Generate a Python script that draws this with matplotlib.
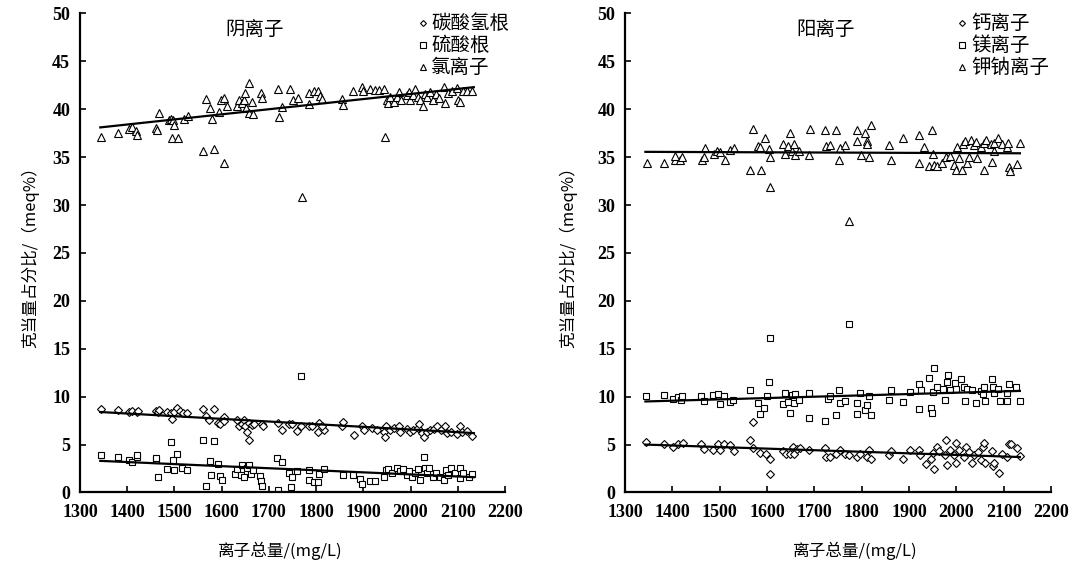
import matplotlib
matplotlib.use('Agg')
import matplotlib.pyplot as plt

# ---- data (total ions mg/L, share meq%) ----
# anions: bicarbonate
hco3_x = [1344, 1380, 1404, 1411, 1420, 1423, 1461, 1465, 1467, 1485, 1492, 1495, 1500, 1506, 1511, 1518,
          1527, 1561, 1566, 1573, 1583, 1592, 1597, 1604, 1606, 1633, 1636, 1643, 1647, 1650, 1654, 1657,
          1659, 1664, 1668, 1685, 1688, 1719, 1728, 1742, 1749, 1760, 1768, 1784, 1791, 1807, 1805, 1816,
          1812, 1855, 1858, 1881, 1897, 1901, 1918, 1929, 1943, 1946, 1948, 1957, 1964, 1975, 1978, 1992,
          1998, 2006, 2015, 2019, 2024, 2029, 2034, 2041, 2049, 2056, 2064, 2073, 2077, 2085, 2098, 2105,
          2109, 2119, 2130]
hco3_y = [8.7, 8.6, 8.4, 8.5, 8.4, 8.5, 8.5, 8.4, 8.6, 8.4, 8.3, 7.7, 8.4, 8.8, 8.5, 8.3,
          8.3, 8.7, 8.0, 7.6, 8.7, 7.3, 7.1, 7.9, 7.5, 7.6, 6.9, 7.1, 7.6, 6.9, 6.3, 5.5,
          7.3, 7.0, 7.1, 7.2, 6.9, 7.3, 6.5, 7.2, 7.1, 6.4, 6.9, 6.9, 6.9, 7.3, 6.3, 6.5,
          6.9, 6.9, 7.4, 6.0, 6.9, 6.5, 6.7, 6.5, 6.3, 5.8, 6.9, 6.5, 6.7, 6.9, 6.3, 6.6,
          6.3, 6.5, 6.7, 7.1, 6.2, 5.8, 6.3, 6.5, 6.6, 6.9, 6.5, 6.9, 6.2, 6.3, 6.1, 6.9,
          6.3, 6.4, 5.9]
# anions: sulfate
so4_x = [1344, 1380, 1404, 1411, 1420, 1421, 1460, 1462, 1466, 1485, 1493, 1497, 1499, 1506, 1516, 1527,
         1561, 1566, 1576, 1578, 1583, 1592, 1597, 1601, 1629, 1633, 1640, 1643, 1647, 1654, 1657, 1662,
         1666, 1682, 1683, 1685, 1717, 1728, 1719, 1742, 1749, 1747, 1760, 1768, 1784, 1786, 1795, 1805,
         1807, 1816, 1857, 1879, 1894, 1897, 1915, 1925, 1943, 1948, 1953, 1960, 1971, 1978, 1985, 1992,
         1996, 2003, 2010, 2015, 2020, 2029, 2031, 2034, 2040, 2047, 2054, 2063, 2071, 2075, 2080, 2085,
         2094, 2104, 2105, 2112, 2123, 2130]
so4_y = [3.9, 3.7, 3.4, 3.2, 3.7, 3.9, 3.4, 3.6, 1.6, 2.5, 5.3, 3.4, 2.3, 4.0, 2.6, 2.3,
         5.5, 0.7, 3.3, 1.8, 5.4, 3.0, 1.7, 1.3, 1.9, 2.4, 1.8, 2.9, 1.6, 2.6, 2.9, 1.9,
         2.3, 1.7, 1.2, 0.7, 3.6, 3.2, 0.3, 2.0, 1.6, 0.6, 2.2, 12.2, 2.3, 1.3, 1.1, 1.1,
         1.9, 2.5, 1.8, 1.8, 1.4, 0.9, 1.2, 1.2, 1.6, 2.3, 2.5, 2.0, 2.6, 2.2, 2.5, 1.8,
         2.2, 1.6, 2.0, 2.4, 1.3, 3.7, 2.6, 2.0, 2.6, 1.6, 2.0, 1.6, 1.3, 2.3, 1.8, 2.6,
         2.0, 2.6, 1.5, 2.0, 1.6, 1.9]
# anions: chloride
cl_x = [1344, 1380, 1404, 1411, 1418, 1420, 1461, 1463, 1467, 1488, 1493, 1497, 1499, 1494, 1507, 1520,
        1528, 1561, 1566, 1576, 1580, 1583, 1594, 1599, 1604, 1611, 1633, 1636, 1643, 1647, 1650, 1652,
        1657, 1657, 1664, 1666, 1684, 1686, 1719, 1721, 1728, 1745, 1752, 1761, 1784, 1795, 1805, 1809,
        1812, 1786, 1855, 1858, 1879, 1897, 1899, 1915, 1925, 1934, 1944, 1946, 1950, 1953, 1957, 1964,
        1972, 1975, 1980, 1992, 1996, 1999, 2006, 2010, 2015, 2020, 2027, 2031, 2034, 2041, 2047, 2054,
        2061, 2070, 2073, 2080, 2087, 2098, 2101, 2105, 2112, 2120, 2130, 1604, 1771]
cl_y = [37.1, 37.5, 37.9, 38.1, 37.7, 37.3, 38.0, 37.8, 39.6, 38.9, 39.0, 38.9, 38.4, 37.0, 37.0, 39.0,
        39.3, 35.6, 41.1, 40.1, 39.0, 35.8, 39.7, 41.0, 41.2, 40.3, 40.3, 41.0, 40.6, 41.0, 41.7, 40.1,
        42.7, 39.6, 40.7, 39.5, 41.7, 41.2, 42.1, 39.2, 40.2, 42.1, 41.0, 41.2, 41.7, 41.9, 41.9, 41.4,
        41.1, 40.5, 41.1, 40.4, 41.9, 42.3, 41.9, 42.1, 42.0, 42.0, 42.1, 37.1, 41.0, 40.6, 41.3, 40.8,
        41.3, 41.8, 41.0, 41.5, 41.8, 41.0, 41.5, 42.1, 41.3, 41.0, 40.3, 41.6, 41.3, 41.8, 41.0, 41.6,
        41.2, 42.3, 40.6, 41.7, 41.9, 42.2, 41.0, 40.8, 41.9, 41.9, 41.9, 34.4, 30.8]

# cations: calcium
ca_x = [1344, 1382, 1402, 1411, 1422, 1460, 1467, 1485, 1497, 1501, 1509, 1521, 1531, 1563, 1570, 1571,
        1584, 1598, 1607, 1607, 1633, 1641, 1649, 1655, 1657, 1663, 1669, 1688, 1723, 1725, 1732, 1746,
        1753, 1765, 1774, 1789, 1797, 1810, 1815, 1820, 1857, 1862, 1887, 1901, 1920, 1923, 1935, 1947,
        1952, 1951, 1958, 1963, 1975, 1977, 1980, 1986, 1994, 2000, 2000, 2005, 2016, 2021, 2026, 2033,
        2037, 2045, 2051, 2057, 2059, 2061, 2076, 2078, 2079, 2090, 2097, 2107, 2111, 2116, 2127, 2134]
ca_y = [5.3, 5.1, 4.8, 5.1, 5.2, 5.1, 4.5, 4.4, 5.1, 4.4, 5.1, 5.0, 4.3, 5.5, 7.4, 4.6,
        4.1, 4.0, 3.5, 1.9, 4.3, 4.0, 4.0, 4.8, 4.0, 4.5, 4.6, 4.4, 4.6, 3.7, 3.7, 4.0,
        4.4, 4.0, 3.9, 3.7, 4.0, 3.7, 4.4, 3.5, 3.9, 4.3, 3.5, 4.4, 4.4, 3.9, 3.0, 3.5,
        2.4, 4.1, 4.7, 4.3, 3.9, 5.5, 2.9, 4.4, 3.9, 5.2, 3.1, 4.4, 3.7, 4.8, 4.2, 3.1,
        3.9, 4.2, 3.4, 4.7, 5.2, 3.1, 4.3, 2.8, 3.1, 2.0, 4.0, 3.7, 5.1, 5.1, 4.6, 3.8]
# cations: magnesium
mg_x = [1344, 1382, 1402, 1411, 1418, 1420, 1460, 1466, 1485, 1497, 1500, 1509, 1521, 1529, 1563, 1580,
        1586, 1594, 1600, 1605, 1607, 1774, 1633, 1637, 1645, 1649, 1653, 1657, 1660, 1667, 1688, 1689,
        1723, 1728, 1732, 1746, 1751, 1755, 1765, 1789, 1790, 1797, 1806, 1810, 1815, 1820, 1857, 1861,
        1887, 1901, 1920, 1920, 1925, 1942, 1947, 1949, 1952, 1951, 1959, 1972, 1975, 1979, 1982, 1986,
        1996, 2000, 2010, 2016, 2019, 2023, 2033, 2042, 2051, 2057, 2059, 2061, 2076, 2078, 2079, 2088,
        2093, 2106, 2107, 2111, 2125, 2134]
mg_y = [10.1, 10.2, 9.8, 10.0, 9.7, 10.1, 10.1, 9.5, 10.2, 10.3, 9.2, 10.1, 9.4, 9.7, 10.7, 9.3,
        8.2, 8.8, 10.1, 11.5, 16.1, 17.6, 9.2, 10.4, 9.4, 8.3, 10.2, 9.3, 10.3, 9.7, 10.4, 7.8,
        7.5, 9.8, 10.1, 8.1, 10.7, 9.3, 9.5, 9.3, 8.2, 10.4, 8.6, 9.1, 10.1, 8.1, 9.7, 10.7,
        9.4, 10.5, 11.3, 8.7, 10.7, 11.9, 8.8, 8.3, 13.0, 10.5, 11.0, 10.8, 9.7, 11.5, 12.3, 10.7,
        11.4, 10.8, 11.8, 11.0, 9.6, 10.8, 10.7, 9.3, 10.6, 10.3, 11.0, 9.6, 11.8, 11.0, 10.4, 10.8,
        9.6, 9.6, 10.4, 11.3, 11.0, 9.6]
# cations: potassium + sodium
kna_x = [1346, 1383, 1406, 1416, 1462, 1512, 1564, 1587, 1607, 1751, 1774, 1861, 1920, 1942, 1952, 1959,
         1970, 1994, 2000, 2012, 2023, 2059, 2076, 2111, 2113, 2128, 1406, 1420, 1466, 1469, 1487, 1494,
         1501, 1522, 1531, 1570, 1580, 1586, 1596, 1603, 1607, 1633, 1637, 1645, 1648, 1653, 1657, 1660,
         1667, 1688, 1690, 1723, 1725, 1732, 1746, 1753, 1765, 1789, 1790, 1798, 1806, 1810, 1811, 1815,
         1820, 1857, 1887, 1920, 1932, 1949, 1951, 2002, 2014, 2019, 2030, 2037, 2042, 2052, 2058, 2063,
         2072, 2080, 2088, 2097, 2106, 2109, 2134, 1977, 1986, 2005, 2026, 2044, 2079]
kna_y = [34.4, 34.4, 34.7, 34.7, 34.7, 34.7, 33.7, 33.7, 31.9, 34.7, 28.3, 34.7, 34.4, 34.1, 34.2, 34.1,
         34.4, 34.2, 33.7, 33.7, 34.4, 33.7, 34.5, 34.0, 33.6, 34.3, 35.1, 35.0, 35.0, 35.9, 35.3, 35.6,
         35.5, 35.7, 35.9, 37.9, 36.2, 36.1, 37.0, 35.8, 35.0, 36.4, 35.3, 36.2, 37.5, 35.6, 36.4, 35.2,
         35.6, 35.2, 37.9, 37.8, 36.2, 36.3, 37.8, 36.0, 36.3, 37.8, 36.7, 35.2, 37.5, 36.7, 36.4, 35.0,
         38.4, 36.3, 37.0, 37.3, 36.1, 37.8, 35.3, 36.1, 36.4, 36.7, 36.8, 36.3, 36.6, 36.1, 36.5, 36.8,
         36.4, 36.5, 37.0, 36.4, 36.1, 36.5, 36.5, 35.0, 35.1, 34.9, 35.0, 34.9, 35.6]

# trend line ends
trend_x = [1343, 2134]
hco3_trend = [8.4, 6.2]
so4_trend = [3.3, 1.6]
cl_trend = [38.1, 42.3]
ca_trend = [5.0, 3.7]
mg_trend = [9.5, 10.6]
kna_trend = [35.55, 35.4]

an_labels = ['碳酸氢根', '硫酸根', '氯离子']
cat_labels = ['钙离子', '镁离子', '钾钠离子']

plt.rcParams['font.family'] = ['Noto Sans CJK SC', 'DejaVu Sans']
tick_font = 'Liberation Serif'

fig = plt.figure(figsize=(10.76, 5.67), dpi=100)
ax1 = fig.add_axes([0.0743, 0.1314, 0.395, 0.845])
ax2 = fig.add_axes([0.5809, 0.1314, 0.396, 0.845])

mk = dict(linestyle='none', markerfacecolor='white', markeredgecolor='black', markeredgewidth=0.8)


def draw_panel(ax, series, trends, labels, title, title_x, leg_x):
    markers = ['D', 's', '^']
    sizes = [4.0, 5.0, 5.2]
    for (xs, ys), m, s, lab in zip(series, markers, sizes, labels):
        ax.plot(xs, ys, marker=m, markersize=s, label=lab, **mk)
    for tr in trends:
        ax.plot(trend_x, tr, color='black', linewidth=1.6)
    ax.set_xlim(1300, 2200)
    ax.set_ylim(0, 50)
    ax.set_xticks(range(1300, 2201, 100))
    ax.set_yticks(range(0, 51, 5))
    for side in ['top', 'right']:
        ax.spines[side].set_visible(False)
    for side in ['left', 'bottom']:
        ax.spines[side].set_linewidth(1.6)
    ax.tick_params(direction='in', length=4, width=1.2, labelsize=13)
    ax.tick_params(axis='x', pad=8)
    ax.tick_params(axis='y', pad=7)
    for lbl in ax.get_xticklabels() + ax.get_yticklabels():
        lbl.set_fontfamily(tick_font)
        lbl.set_fontweight('bold')
    ax.text(title_x, 0.966, title, transform=ax.transAxes, fontsize=14,
            ha='center', va='center')
    ax.legend(loc='upper left', bbox_to_anchor=(leg_x, 1.0), frameon=False,
              fontsize=14, markerscale=0.75, handlelength=0.5, handletextpad=0.2,
              labelspacing=0.05, borderpad=0, borderaxespad=0)


draw_panel(ax1, [(hco3_x, hco3_y), (so4_x, so4_y), (cl_x, cl_y)],
           [hco3_trend, so4_trend, cl_trend], an_labels, '阴离子', 0.41, 0.795)
draw_panel(ax2, [(ca_x, ca_y), (mg_x, mg_y), (kna_x, kna_y)],
           [ca_trend, mg_trend, kna_trend], cat_labels, '阳离子', 0.47, 0.78)

ylab = '克当量占分比/（meq%）'
fig.text(30 / 1076, 1 - 253 / 567, ylab, rotation=90, ha='center', va='center', fontsize=12)
fig.text(568 / 1076, 1 - 253 / 567, ylab, rotation=90, ha='center', va='center', fontsize=12)
fig.text(280 / 1076, 1 - 551 / 567, '离子总量/(mg/L)', ha='center', va='center', fontsize=12)
fig.text(855 / 1076, 1 - 551 / 567, '离子总量/(mg/L)', ha='center', va='center', fontsize=12)

fig.savefig('out.png', dpi=100)
